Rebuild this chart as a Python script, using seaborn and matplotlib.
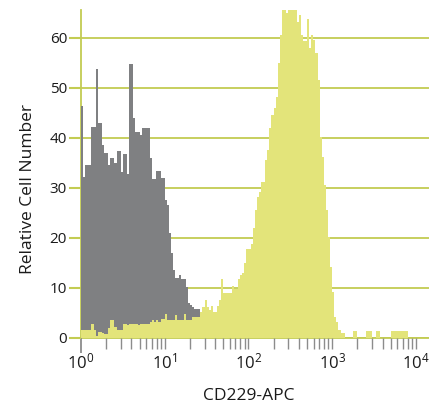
import numpy as np
import pandas as pd
import matplotlib
matplotlib.use("Agg")
import matplotlib.pyplot as plt
import seaborn as sns
from matplotlib.ticker import FixedLocator, FixedFormatter, NullFormatter

# Log-spaced channels: 40 bins per decade over 10^0 .. 10^4
BINS_PER_DECADE = 40
DECADES = 4

# Isotype control (grey) counts per channel
isotype_counts = [
    46.3, 32.2, 34.5, 34.5, 34.5, 42.2, 42.2, 53.7, 43.0, 43.0,
    38.5, 36.9, 36.9, 34.5, 35.9, 35.9, 34.9, 37.3, 37.3, 33.2,
    36.8, 36.8, 32.7, 54.7, 54.7, 43.9, 41.2, 41.2, 40.5, 41.9,
    41.9, 41.9, 41.9, 36.0, 31.7, 31.7, 33.4, 33.4, 31.9, 31.9,
    27.5, 26.5, 20.9, 16.9, 13.5, 11.9, 11.9, 12.5, 11.7, 11.7,
    10.2, 6.9, 6.5, 6.1, 5.7, 5.7, 5.7,
]

# CD229-APC stained (yellow) counts per channel
cd229_counts = [
    1.5, 1.5, 1.5, 1.5, 1.5, 2.7, 1.5, 0.3, 1.1, 1.1,
    1.0, 0.8, 0.8, 2.0, 3.5, 3.5, 2.2, 1.6, 1.6, 1.6,
    2.7, 2.7, 2.6, 2.7, 2.8, 2.7, 2.7, 2.6, 2.7, 2.7,
    2.8, 2.7, 2.7, 3.1, 3.5, 3.1, 3.5, 3.1, 3.8, 3.8,
    4.7, 3.5, 3.5, 3.5, 3.5, 4.5, 3.5, 3.5, 3.5, 4.7,
    3.5, 3.5, 3.5, 4.1, 4.1, 4.1, 4.1, 5.1, 6.1, 7.5,
    6.1, 5.5, 6.4, 5.1, 5.2, 6.4, 7.5, 11.7, 8.9, 8.9,
    8.9, 8.9, 10.3, 9.7, 9.7, 11.7, 12.5, 12.9, 14.9, 17.7,
    17.7, 18.7, 21.9, 25.5, 28.2, 29.2, 31.2, 31.2, 35.5, 37.5,
    41.9, 44.5, 46.0, 48.2, 54.9, 60.5, 67.0, 67.0, 64.9, 67.0,
    67.0, 67.0, 67.0, 63.2, 64.5, 60.5, 59.4, 59.4, 63.7, 57.9,
    60.5, 59.5, 56.9, 51.5, 40.2, 36.2, 30.5, 25.5, 20.2, 14.2,
    9.2, 4.2, 3.2, 1.5, 0.9, 0.9, 0.0, 0.0, 0.0, 0.0,
    1.3, 1.3, 0.0, 0.0, 0.0, 0.0, 1.3, 1.3, 1.3, 0.0,
    0.0, 1.3, 1.3, 0.0, 0.0, 0.0, 0.0, 0.0, 1.3, 1.3,
    1.3, 1.3, 1.3, 1.3, 1.3, 1.3, 0.0, 0.0, 0.0, 0.0,
]

y_ticks = [0, 10, 20, 30, 40, 50, 60]
x_major = [1, 10, 100, 1000, 10000]
x_major_labels = [r"$\mathregular{10^{%d}}$" % i for i in range(5)]
x_label = "CD229-APC"
y_label = "Relative Cell Number"

GREY = "#7f8082"
YELLOW = "#e3e47a"
GRID = "#c3cc52"
TICK_GREY = "#8c8c8c"

sns.set_theme(style="white")
plt.rcParams["font.family"] = ["Open Sans", "DejaVu Sans"]
plt.rcParams["mathtext.fontset"] = "custom"
plt.rcParams["mathtext.rm"] = "Open Sans"


def channel_frame(counts):
    idx = np.arange(len(counts))
    centers = 10 ** ((idx + 0.5) / BINS_PER_DECADE)
    return pd.DataFrame({"intensity": centers, "count": counts})


fig = plt.figure(figsize=(4.29, 4.08), dpi=100)
ax = fig.add_axes([0.1888, 0.1723, 1.0 - 0.1888, 0.9755 - 0.1723])

hist_kws = dict(
    x="intensity", weights="count", bins=BINS_PER_DECADE * DECADES,
    binrange=(0, DECADES), log_scale=True, element="step", fill=True,
    alpha=1.0, linewidth=0, ax=ax,
)
sns.histplot(data=channel_frame(isotype_counts), color=GREY, **hist_kws)
sns.histplot(data=channel_frame(cd229_counts), color=YELLOW, **hist_kws)

ax.set_xlim(1, 10 ** 4.156)
ax.set_ylim(0, 65.5)

# horizontal guide lines behind the histograms
ax.set_axisbelow(True)
ax.yaxis.grid(True, color=GRID, linewidth=1.3)
ax.xaxis.grid(False)

for side in ("top", "right"):
    ax.spines[side].set_visible(False)
for side in ("left", "bottom"):
    ax.spines[side].set_color(GRID)
    ax.spines[side].set_linewidth(1.3)
    ax.spines[side].set_zorder(0.5)

ax.set_yticks(y_ticks)
ax.set_yticklabels([str(v) for v in y_ticks])
ax.tick_params(axis="y", which="major", left=True, length=9, width=1.5,
               color=GRID, pad=1, labelsize=11, labelcolor="#1a1a1a")

minor = [k * 10 ** d for d in range(4) for k in range(2, 10)]
ax.xaxis.set_major_locator(FixedLocator(x_major))
ax.xaxis.set_major_formatter(FixedFormatter(x_major_labels))
ax.xaxis.set_minor_locator(FixedLocator(minor))
ax.xaxis.set_minor_formatter(NullFormatter())
ax.tick_params(axis="x", which="both", bottom=True, length=8, width=1.0,
               color=TICK_GREY, pad=3, labelsize=12, labelcolor="#1a1a1a")

# the origin tick continues the left axis line downward
first = ax.xaxis.get_major_ticks()[0]
first.tick1line.set_color(GRID)
first.tick1line.set_markersize(11)
first.tick1line.set_markeredgewidth(1.3)

ax.set_xlabel(x_label, fontsize=12.5, color="#1a1a1a")
ax.set_ylabel(y_label, fontsize=12.5, color="#1a1a1a")
ax.xaxis.set_label_coords(0.481, -0.152)
ax.yaxis.set_label_coords(-0.128, 0.455)

fig.savefig("out.png", dpi=100)
